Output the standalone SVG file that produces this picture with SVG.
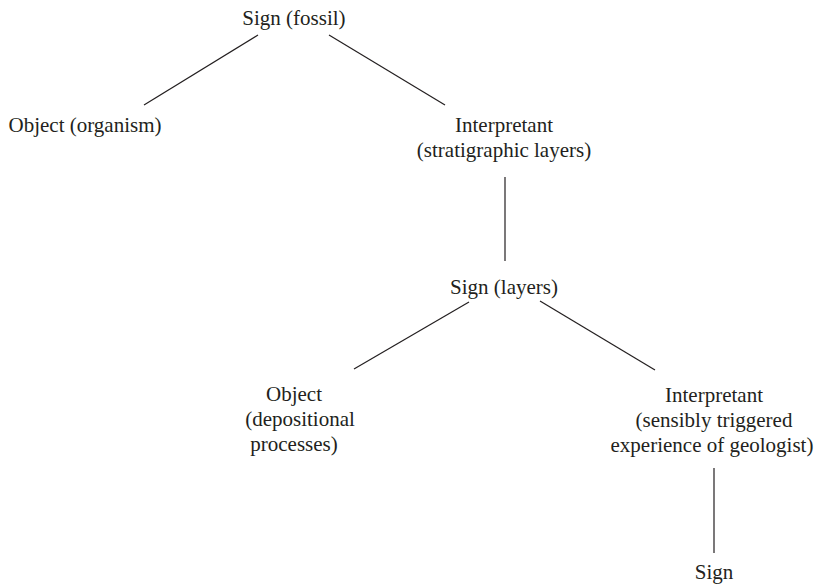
<svg xmlns="http://www.w3.org/2000/svg" width="819" height="585" viewBox="0 0 819 585">
<style>
text{font-family:"Liberation Serif","Times New Roman",serif;font-size:21px;fill:#231f20;text-anchor:middle}
.c line{stroke:#231f20;stroke-width:1.2;fill:none}
</style>
<rect width="819" height="585" fill="#fff"/>
<g class="c" id="connectors">
<line x1="258" y1="35" x2="144" y2="105"/>
<line x1="329" y1="35" x2="445" y2="105"/>
<line x1="505" y1="177" x2="505" y2="261"/>
<line x1="469" y1="302" x2="354" y2="369"/>
<line x1="540" y1="301" x2="655" y2="370"/>
<line x1="714" y1="468" x2="714" y2="553"/>
</g>
<g id="sign-fossil"><text x="294" y="25">Sign (fossil)</text></g>
<g id="object-organism"><text x="85" y="132">Object (organism)</text></g>
<g id="interpretant-strat"><text x="504" y="132">Interpretant</text><text x="504" y="157">(stratigraphic layers)</text></g>
<g id="sign-layers"><text x="504" y="294">Sign (layers)</text></g>
<g id="object-depositional"><text x="294" y="401">Object</text><text x="300" y="426">(depositional</text><text x="294" y="451">processes)</text></g>
<g id="interpretant-experience"><text x="714" y="402">Interpretant</text><text x="714" y="427">(sensibly triggered</text><text x="712" y="452">experience of geologist)</text></g>
<g id="sign"><text x="714" y="579">Sign</text></g>
</svg>
